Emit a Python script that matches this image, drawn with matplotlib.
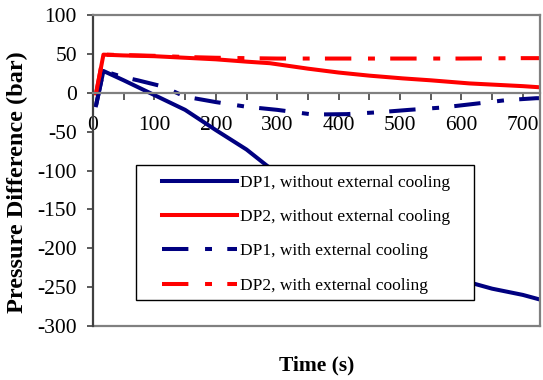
import matplotlib
matplotlib.use("Agg")
import matplotlib.pyplot as plt
from matplotlib.patches import Rectangle

plt.rcParams['font.family'] = ['Liberation Serif', 'DejaVu Serif']
plt.rcParams['lines.scale_dashes'] = False
plt.rcParams['axes.unicode_minus'] = False

# time axis (s)
t_dp1_no = [5, 17, 50, 100, 150, 200, 250, 282, 300, 350, 400, 450, 500, 550, 600, 618, 650, 700, 728]
dp1_no = [-16, 28, 16, -3, -22, -48, -73, -93, -104, -134, -162, -187, -207, -224, -238, -245, -252, -260, -266]

t_dp2_no = [5, 17, 50, 100, 150, 200, 250, 288, 350, 400, 450, 504, 550, 613, 650, 700, 728]
dp2_no = [-1, 49, 48, 47, 45, 43, 40, 38, 31, 26, 22, 18.5, 16, 12, 10.5, 8.5, 7]

t_dp1_co = [5, 17, 50, 73, 114, 150, 200, 250, 300, 358, 413, 467, 515, 569, 624, 673, 722, 728]
dp1_co = [-16, 28, 20, 16, 8, -5, -12, -18, -22, -28, -27.5, -25, -22, -19, -14, -9.5, -7, -7]

t_dp2_co = [5, 17, 50, 100, 150, 200, 250, 300, 400, 500, 600, 700, 728]
dp2_co = [-1, 49, 48.5, 47.5, 46, 45, 44.5, 44, 44, 44, 44, 44.5, 44.5]

labels = ["DP1, without external cooling", "DP2, without external cooling",
          "DP1, with external cooling", "DP2, with external cooling"]

navy = '#000080'
red = '#ff0000'
dashdot = (19, 12, 5, 11)

fig = plt.figure(figsize=(5.43, 3.80), dpi=100)
ax = fig.add_axes([93 / 543, 1 - 326 / 380, (540 - 93) / 543, (326 - 15) / 380])

ax.plot(t_dp1_no, dp1_no, color=navy, lw=2.9, label=labels[0])
ax.plot(t_dp2_no, dp2_no, color=red, lw=2.9, label=labels[1])
ax.plot(t_dp1_co, dp1_co, color=navy, lw=2.9, dashes=dashdot, label=labels[2])
ax.plot(t_dp2_co, dp2_co, color=red, lw=2.9, dashes=dashdot, label=labels[3])

ax.set_xlim(0, 728)
ax.set_ylim(-300, 100)
ax.set_xticks(range(0, 701, 100))
ax.set_xticks(range(0, 701, 50), minor=True)
ax.set_yticks(range(-300, 101, 50))

# frame and x axis drawn at y = 0
for s in ['top', 'right']:
    ax.spines[s].set_color('#808080')
    ax.spines[s].set_linewidth(1.6)
ax.spines['left'].set_color('#404040')
ax.spines['left'].set_linewidth(1.6)
ax.spines['bottom'].set_position(('data', 0))
ax.spines['bottom'].set_color('#808080')
ax.spines['bottom'].set_linewidth(1.6)
ax.plot([0, 1], [0, 0], transform=ax.transAxes, color='#808080', lw=1.6, clip_on=False)

ax.tick_params(axis='y', direction='out', length=4.5, width=1.2, color='#404040',
               labelsize=15.5, pad=7)
ax.tick_params(axis='x', which='both', direction='out', length=5, width=1.2,
               color='#404040', labelsize=15.5, pad=12)
ax.tick_params(axis='x', which='minor', labelbottom=False)

ax.set_xlabel("Time (s)", fontsize=15.5, fontweight='bold')
ax.xaxis.set_label_coords(0.5, -0.095)
ax.set_ylabel("Pressure Difference (bar)", fontsize=17.5, fontweight='bold')
ax.yaxis.set_label_coords(-0.145, 0.462)

# legend box
ax.add_patch(Rectangle((0.0962, 0.0836), 0.852 - 0.0962, 0.5177 - 0.0836,
                       transform=ax.transAxes, facecolor='white', edgecolor='black',
                       lw=1.0, zorder=4))
leg = ax.legend(loc='upper left', bbox_to_anchor=(0.1544, 0.487),
                fontsize=12.5, frameon=False, handlelength=4.3,
                handletextpad=0.17, labelspacing=1.05, borderpad=0,
                borderaxespad=0)
leg.set_zorder(5)

fig.savefig('out.png', dpi=100)
